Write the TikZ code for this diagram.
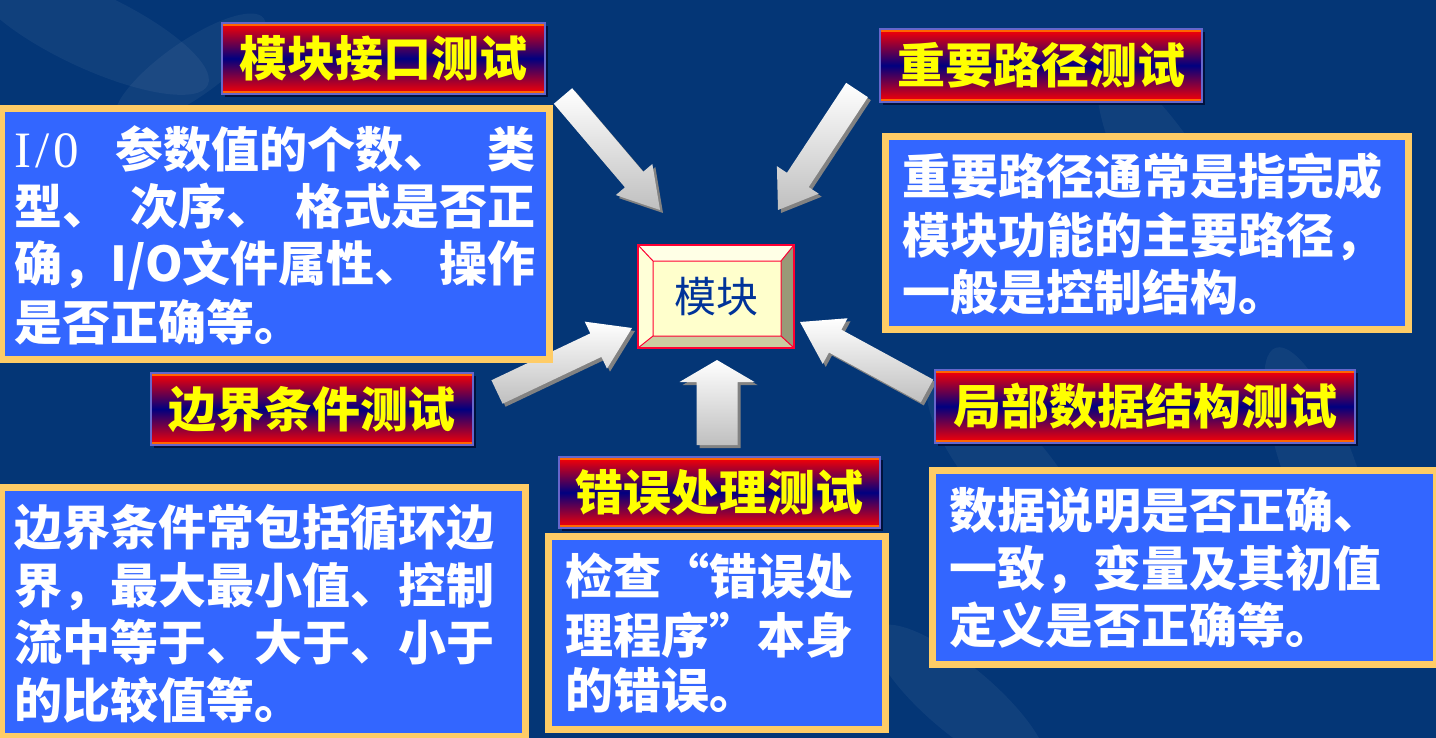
\documentclass[tikz,border=0pt]{standalone}
\usepackage{fontspec}
\newfontfamily\cjk{Noto Sans CJK SC}
\newfontfamily\serifL{Liberation Serif}
\usetikzlibrary{calc,shadows}
\definecolor{bgblue}{RGB}{4,54,118}
\definecolor{cblue}{RGB}{51,102,255}
\definecolor{tanc}{RGB}{255,204,102}
\definecolor{tyellow}{RGB}{255,255,0}
\definecolor{tred}{RGB}{255,0,0}
\definecolor{tnavy}{RGB}{0,0,128}
\definecolor{torange}{RGB}{255,102,0}
\definecolor{tborder}{RGB}{102,102,204}
\definecolor{shadowc}{RGB}{0,18,60}
\definecolor{modred}{RGB}{255,0,51}
\definecolor{modtext}{RGB}{0,51,153}
\definecolor{bevtop}{RGB}{255,255,230}
\definecolor{bevleft}{RGB}{255,255,215}
\definecolor{bevright}{RGB}{153,153,119}
\definecolor{bevbot}{RGB}{204,204,160}
\definecolor{modface}{RGB}{255,255,204}
\definecolor{ashadowc}{RGB}{130,130,130}
\tikzset{
  tbox/.style={draw=tborder, line width=0.6pt, top color=tred, bottom color=tred,
    middle color=tnavy, text=tyellow, inner sep=0pt,
    font=\cjk\bfseries\fontsize{24}{28}\selectfont,
    drop shadow={shadow xshift=1.5pt, shadow yshift=-1.5pt, fill=shadowc, opacity=1},
    path picture={
      \draw[torange, line width=3pt] (path picture bounding box.north west) -- (path picture bounding box.north east);
      \draw[torange, line width=3pt] (path picture bounding box.south west) -- (path picture bounding box.south east);}},
  cbox/.style={draw=tanc, line width=3.5pt, fill=cblue, inner sep=0pt,
    drop shadow={shadow xshift=1.5pt, shadow yshift=-1.5pt, fill=shadowc, opacity=1}},
  ctext/.style={anchor=base west, inner sep=0pt, text=white,
    font=\cjk\bfseries\fontsize{24}{28}\selectfont},
  afill/.style={top color=white, bottom color=black!25},
  ashadow/.style={fill=ashadowc},
  petal/.style={fill=white, opacity=0.05},
}
\newcommand\blockarrow[5]{%
  \coordinate (hb) at ($(#2)!#5!(#1)$);
  \coordinate (p1) at ($(#1)!#3!90:(#2)$);
  \coordinate (p2) at ($(hb)!#3!90:(#2)$);
  \coordinate (p3) at ($(hb)!#4!90:(#2)$);
  \coordinate (p5) at ($(hb)!#4!-90:(#2)$);
  \coordinate (p6) at ($(hb)!#3!-90:(#2)$);
  \coordinate (p7) at ($(#1)!#3!-90:(#2)$);
  \fill[ashadow] ($(p1)+(3,3)$) -- ($(p2)+(3,3)$) -- ($(p3)+(3,3)$) -- ($(#2)+(3,3)$)
     -- ($(p5)+(3,3)$) -- ($(p6)+(3,3)$) -- ($(p7)+(3,3)$) -- cycle;
  \shade[afill] (p1) -- (p2) -- (p3) -- (#2) -- (p5) -- (p6) -- (p7) -- cycle;
}
\begin{document}
\begin{tikzpicture}[x=0.5pt, y=-0.5pt]
\useasboundingbox (0,0) rectangle (1436,738);
% background
\fill[bgblue] (0,0) rectangle (1436,738);
\begin{scope}
\clip (0,0) rectangle (1436,738);
\fill[petal] (90,30) ellipse [x radius=130, y radius=38, rotate=-25];
\fill[petal] (190,70) ellipse [x radius=90, y radius=28, rotate=35];
\fill[petal] (1180,200) ellipse [x radius=150, y radius=40, rotate=-60];
\fill[petal] (1010,470) ellipse [x radius=120, y radius=40, rotate=-50];
\fill[petal] (1320,470) ellipse [x radius=130, y radius=36, rotate=-70];
\fill[petal] (960,700) ellipse [x radius=110, y radius=34, rotate=-40];
\end{scope}

% arrows
\coordinate (aAt) at (563,96);   \coordinate (aAh) at (660,210);
\coordinate (aBt) at (857,90);   \coordinate (aBh) at (778,210);
\coordinate (aCt) at (497,392);  \coordinate (aCh) at (632,328);
\coordinate (aDt) at (717,445);  \coordinate (aDh) at (717,360);
\coordinate (aEt) at (927,391);  \coordinate (aEh) at (800,322);
\blockarrow{aAt}{aAh}{6pt}{12pt}{20pt}
\blockarrow{aBt}{aBh}{6.5pt}{12.5pt}{18pt}
\blockarrow{aCt}{aCh}{6.5pt}{13pt}{20pt}
\blockarrow{aDt}{aDh}{10.25pt}{18.75pt}{11pt}
\blockarrow{aEt}{aEh}{6.5pt}{13pt}{20pt}

% module box (bevelled)
\fill[bevtop]   (638,245) -- (794,245) -- (781,261) -- (653,261) -- cycle;
\fill[bevleft]  (638,245) -- (653,261) -- (653,336) -- (638,348) -- cycle;
\fill[bevright] (794,245) -- (794,348) -- (781,336) -- (781,261) -- cycle;
\fill[bevbot]   (638,348) -- (794,348) -- (781,336) -- (653,336) -- cycle;
\fill[modface]  (653,261) rectangle (781,336);
\draw[modred, line width=0.5pt] (638,245) -- (653,261) (794,245) -- (781,261)
   (638,348) -- (653,336) (794,348) -- (781,336) (653,261) rectangle (781,336);
\node[draw=modred, line width=1.2pt, minimum width=78pt, minimum height=51.5pt,
  inner sep=0pt, text=modtext, font=\cjk\fontsize{21}{24}\selectfont] (mod) at (716,296.5) {模块};

% title boxes
\node[tbox, minimum width=161.5pt, minimum height=35.5pt] (t1) at (383.5,58.5) {模块接口测试};
\node[tbox, minimum width=161pt, minimum height=36.5pt] (t2) at (1041,65.5) {重要路径测试};
\node[tbox, minimum width=161pt, minimum height=36pt] (t3) at (312,409) {边界条件测试};
\node[tbox, minimum width=210pt, minimum height=36.5pt] (t4) at (1145,406.5) {局部数据结构测试};
\node[tbox, minimum width=160.5pt, minimum height=35.5pt] (t5) at (719.5,492.5) {错误处理测试};

% content boxes
\node[cbox, minimum width=274pt, minimum height=125.5pt] (b1) at (275.5,234) {};
\node[cbox, minimum width=261.5pt, minimum height=96.5pt] (b2) at (1147,233) {};
\node[cbox, minimum width=262pt, minimum height=124.5pt] (b3) at (263.5,612) {};
\node[cbox, minimum width=168.5pt, minimum height=96.5pt] (b4) at (717,633) {};
\node[cbox, minimum width=252pt, minimum height=97pt] (b5) at (1184.5,567.5) {};

% texts
\node[ctext] (b1l1) at (14,168) {\makebox[260.5pt][s]{{\serifL\mdseries\fontsize{25.5}{28}\selectfont I\kern2pt/\kern2pt0}\hfill 参数值的个数、\hfill 类}};
\node[ctext] (b1l2) at (14,225) {\makebox[260.5pt][s]{型、\hfill 次序、\hfill 格式是否正}};
\node[ctext] (b1l3) at (14,281) {\makebox[260.5pt][s]{确，I/O文件属性、\hfill 操作}};
\node[ctext] (b1l4) at (14,340) {是否正确等。};

\node[ctext] (b2l1) at (902,194) {重要路径通常是指完成};
\node[ctext] (b2l2) at (902,253) {模块功能的主要路径，};
\node[ctext] (b2l3) at (902,310) {一般是控制结构。};

\node[ctext] (b3l1) at (14,545) {边界条件常包括循环边};
\node[ctext] (b3l2) at (14,603) {界，最大最小值、控制};
\node[ctext] (b3l3) at (14,660) {流中等于、大于、小于};
\node[ctext] (b3l4) at (14,718) {的比较值等。};

\node[ctext] (b4l1) at (565,594) {检查“错误处};
\node[ctext] (b4l2) at (565,653) {理程序”本身};
\node[ctext] (b4l3) at (565,708) {的错误。};

\node[ctext] (b5l1) at (949,528) {数据说明是否正确、};
\node[ctext] (b5l2) at (949,586) {一致，变量及其初值};
\node[ctext] (b5l3) at (949,643) {定义是否正确等。};
\end{tikzpicture}
\end{document}
